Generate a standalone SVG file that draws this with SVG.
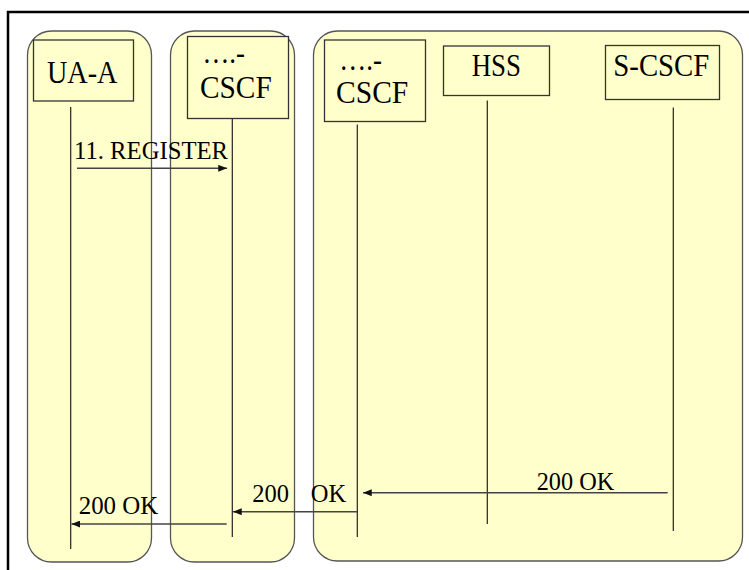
<svg xmlns="http://www.w3.org/2000/svg" width="749" height="570" viewBox="0 0 749 570">
<defs>
<style>
.panel{fill:#FFFFCC;stroke:#555;stroke-width:1.3}
.box{fill:#FFFFCC;stroke:#333;stroke-width:1.3}
.life{stroke:#222;stroke-width:1.2}
.msg{stroke:#444;stroke-width:1.6;fill:none;marker-end:url(#ah)}
.t{font-family:"Liberation Serif","Times New Roman","DejaVu Serif",serif;fill:#000}
.big{font-size:31px}
.sm{font-size:24.5px}
</style>
<marker id="ah" viewBox="0 0 10 8" refX="10" refY="4" markerWidth="9" markerHeight="7" markerUnits="userSpaceOnUse" orient="auto">
<path d="M0,0 L10,4 L0,8 Z" fill="#111"/>
</marker>
</defs>
<rect width="749" height="570" fill="#fff"/>
<path d="M8,570 V12 H749" fill="none" stroke="#000" stroke-width="2.5"/>
<g id="panels">
<rect class="panel" x="27.5" y="31" width="124" height="531" rx="24"/>
<rect class="panel" x="170.5" y="31" width="124" height="531" rx="24"/>
<rect class="panel" x="313.5" y="31" width="429" height="530" rx="24"/>
</g>
<g id="ua-a">
<rect class="box" x="33.5" y="40" width="100" height="61"/>
<text class="t big" x="47" y="83" textLength="70.5" lengthAdjust="spacingAndGlyphs">UA-A</text>
<line class="life" x1="70.7" y1="107" x2="70.7" y2="549"/>
</g>
<g id="cscf1">
<rect class="box" x="187.5" y="36.5" width="101" height="82"/>
<text class="t big" x="202.5" y="63" textLength="42.5" lengthAdjust="spacingAndGlyphs">….-</text>
<text class="t big" x="200" y="98" textLength="71.7" lengthAdjust="spacingAndGlyphs">CSCF</text>
<line class="life" x1="232.3" y1="118.5" x2="232.3" y2="537"/>
</g>
<g id="cscf2">
<rect class="box" x="324.5" y="40" width="101" height="81.5"/>
<text class="t big" x="339.3" y="70" textLength="42.7" lengthAdjust="spacingAndGlyphs">….-</text>
<text class="t big" x="336" y="103" textLength="72.3" lengthAdjust="spacingAndGlyphs">CSCF</text>
<line class="life" x1="357.3" y1="124.5" x2="357.3" y2="537"/>
</g>
<g id="hss">
<rect class="box" x="443.5" y="46" width="106" height="49.5"/>
<text class="t big" x="471.7" y="76" textLength="49.3" lengthAdjust="spacingAndGlyphs">HSS</text>
<line class="life" x1="487.3" y1="100.5" x2="487.3" y2="524"/>
</g>
<g id="s-cscf">
<rect class="box" x="605.5" y="45.5" width="114" height="54"/>
<text class="t big" x="613.3" y="76" textLength="96" lengthAdjust="spacingAndGlyphs">S-CSCF</text>
<line class="life" x1="673.3" y1="107.5" x2="673.3" y2="531"/>
</g>
<g id="connectors">
<line class="msg" x1="77" y1="168.3" x2="227" y2="168.3"/>
<text class="t sm" x="74" y="159" textLength="154" lengthAdjust="spacingAndGlyphs">11. REGISTER</text>
<line class="msg" x1="667.7" y1="492.7" x2="363" y2="492.7"/>
<text class="t sm" x="536.7" y="490" textLength="77.6" lengthAdjust="spacingAndGlyphs">200 OK</text>
<line class="msg" x1="357" y1="511.7" x2="233" y2="511.7"/>
<text class="t sm" x="252.3" y="502">200<tspan x="310.7">OK</tspan></text>
<line class="msg" x1="226.7" y1="524" x2="71.5" y2="524"/>
<text class="t sm" x="78.7" y="514" textLength="79.6" lengthAdjust="spacingAndGlyphs">200 OK</text>
</g>
</svg>
